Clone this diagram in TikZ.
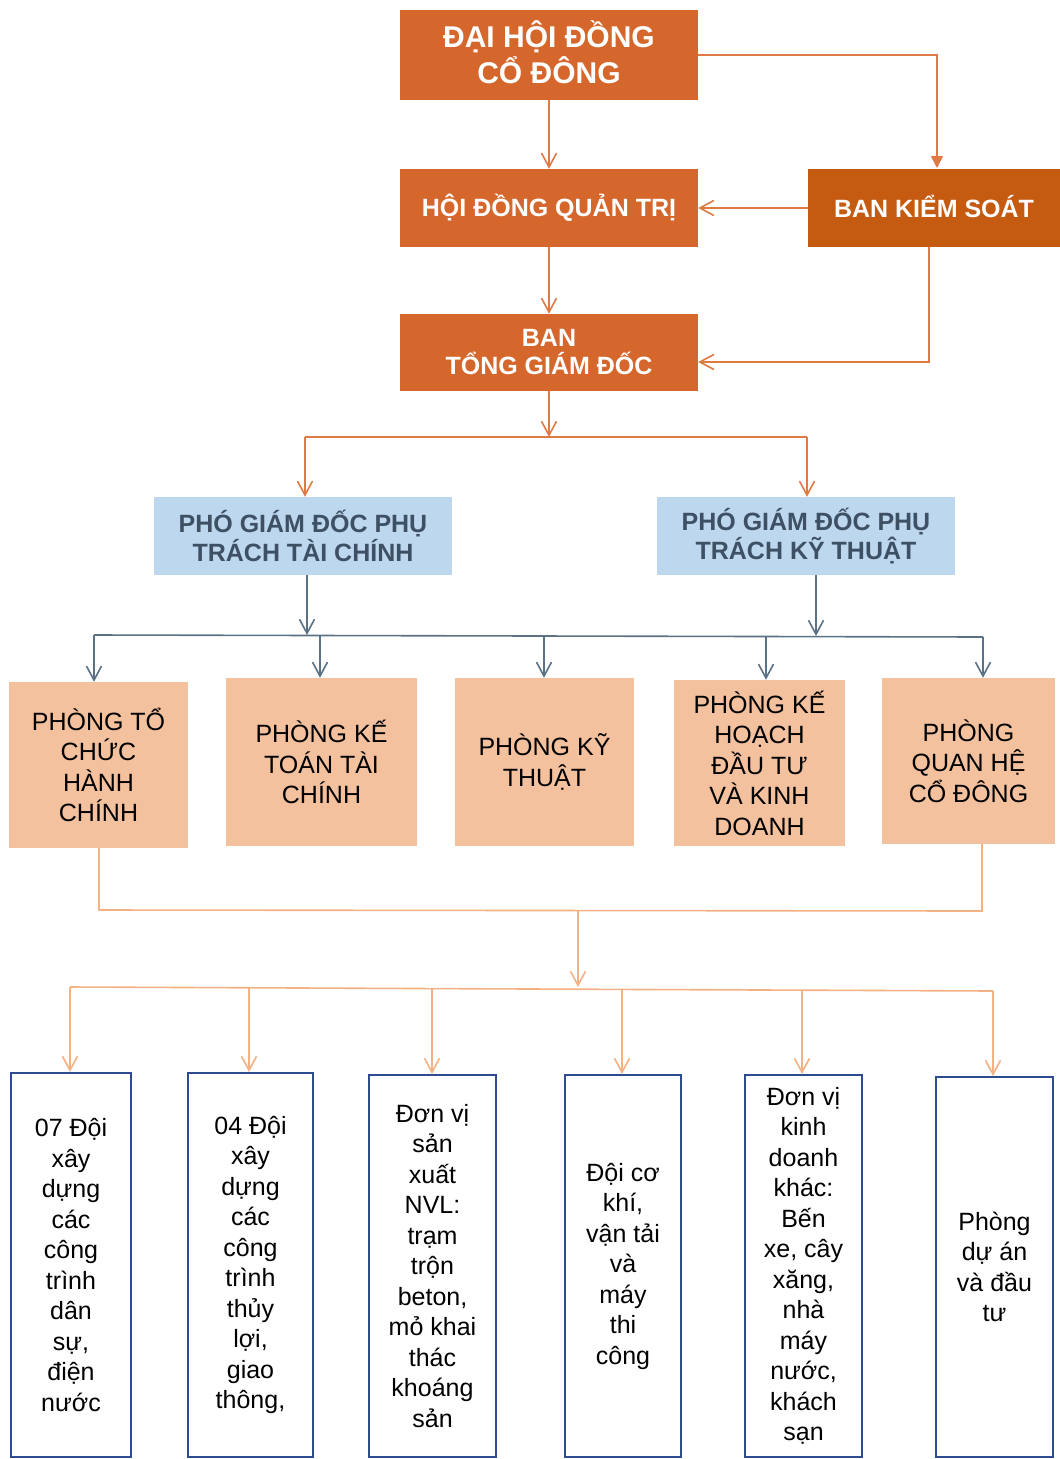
\documentclass[tikz,border=0pt]{standalone}
\usepackage{fontspec}
\setmainfont{Liberation Sans}
\usetikzlibrary{arrows.meta}
\definecolor{orgA}{HTML}{D5672C}
\definecolor{orgB}{HTML}{C55A11}
\definecolor{lineO}{HTML}{E07A45}
\definecolor{blueF}{HTML}{BDD7EE}
\definecolor{slate}{HTML}{3E5064}
\definecolor{lineS}{HTML}{5A7186}
\definecolor{peach}{HTML}{F4C19E}
\definecolor{lineP}{HTML}{F4B183}
\definecolor{navy}{HTML}{2F4B8F}
\begin{document}
\begin{tikzpicture}[x=1pt,y=-1pt,
  topbox/.style={fill=orgA, text=white, inner sep=0pt, align=center, font=\bfseries\fontsize{25}{28}\selectfont},
  pgbox/.style={fill=blueF, text=slate, inner sep=0pt, align=center, font=\bfseries\fontsize{25}{29}\selectfont},
  phbox/.style={fill=peach, text=black, inner sep=0pt, align=center, font=\fontsize{25}{30.5}\selectfont},
  unitbox/.style={draw=navy, line width=2pt, fill=white, text=black, inner sep=0pt, align=center, font=\fontsize{25}{30.5}\selectfont},
  lo/.style={draw=lineO, line width=1.6pt},
  ls/.style={draw=lineS, line width=1.6pt},
  lp/.style={draw=lineP, line width=1.6pt},
  vtip/.style={-{Straight Barb[length=14pt,width=15pt]}},
  ttip/.style={-{Triangle[length=12pt,width=12pt]}}
]
\useasboundingbox (0,0) rectangle (1060,1459);

% top level
\node[topbox, minimum width=298, minimum height=90, text depth=6pt, font=\bfseries\fontsize{30}{36}\selectfont] (dh) at (549,55) {ĐẠI HỘI ĐỒNG\\CỔ ĐÔNG};
\node[topbox, minimum width=298, minimum height=78] (hd) at (549,208) {HỘI ĐỒNG QUẢN TRỊ};
\node[topbox, fill=orgB, minimum width=252, minimum height=78, text depth=4pt] (bks) at (934,208) {BAN KIỂM SOÁT};
\node[topbox, minimum width=298, minimum height=77] (tgd) at (549,352.5) {BAN\\TỔNG GIÁM ĐỐC};

% deputies
\node[pgbox, minimum width=298, minimum height=78] (pg1) at (303,536) {PHÓ GIÁM ĐỐC PHỤ\\TRÁCH TÀI CHÍNH};
\node[pgbox, minimum width=298, minimum height=78] (pg2) at (806,536) {PHÓ GIÁM ĐỐC PHỤ\\TRÁCH KỸ THUẬT};

% departments
\node[phbox, minimum width=179, minimum height=166] (p1) at (98.5,765) {PHÒNG TỔ\\CHỨC\\HÀNH\\CHÍNH};
\node[phbox, minimum width=191, minimum height=168] (p2) at (321.5,762) {PHÒNG KẾ\\TOÁN TÀI\\CHÍNH};
\node[phbox, minimum width=179, minimum height=168] (p3) at (544.5,762) {PHÒNG KỸ\\THUẬT};
\node[phbox, minimum width=171, minimum height=166] (p4) at (759.5,763) {PHÒNG KẾ\\HOẠCH\\ĐẦU TƯ\\VÀ KINH\\DOANH};
\node[phbox, minimum width=173, minimum height=166] (p5) at (968.5,761) {PHÒNG\\QUAN HỆ\\CỔ ĐÔNG};

% units
\node[unitbox, minimum width=120, minimum height=384] (b1) at (71,1265) {07 Đội\\xây\\dựng\\các\\công\\trình\\dân\\sự,\\điện\\nước};
\node[unitbox, minimum width=125, minimum height=384] (b2) at (250.5,1265) {04 Đội\\xây\\dựng\\các\\công\\trình\\thủy\\lợi,\\giao\\thông,};
\node[unitbox, minimum width=127, minimum height=382] (b3) at (432.5,1266) {Đơn vị\\sản\\xuất\\NVL:\\trạm\\trộn\\beton,\\mỏ khai\\thác\\khoáng\\sản};
\node[unitbox, minimum width=116, minimum height=382] (b4) at (623,1266) {Đội cơ\\khí,\\vận tải\\và\\máy\\thi\\công};
\node[unitbox, minimum width=117, minimum height=382] (b5) at (803.5,1266) {Đơn vị\\kinh\\doanh\\khác:\\Bến\\xe, cây\\xăng,\\nhà\\máy\\nước,\\khách\\sạn};
\node[unitbox, minimum width=117, minimum height=380] (b6) at (994.5,1267) {Phòng\\dự án\\và đầu\\tư};

% upper connectors
\draw[lo, vtip] (dh.south) -- (hd.north);
\coordinate (bkstop) at (937,168);
\draw[lo, ttip] (dh.east) -| (bkstop);
\draw[lo, vtip] (bks.west) -- (hd.east);
\draw[lo, vtip] (hd.south) -- (tgd.north);
\coordinate (bksbot) at (929,247);
\coordinate (bksturn) at (929,362);
\draw[lo, vtip] (bksbot) -- (bksturn) -- (bksturn -| tgd.east);
\coordinate (j1) at (549,437);
\coordinate (j1l) at (305,437);
\coordinate (j1r) at (807,437);
\draw[lo, vtip] (tgd.south) -- (j1);
\draw[lo] (j1l) -- (j1r);
\draw[lo, vtip] (j1l) -- (j1l |- pg1.north);
\draw[lo, vtip] (j1r) -- (j1r |- pg2.north);

% deputies to departments
\coordinate (hl) at (94,635);
\coordinate (hr) at (983,637);
\coordinate (s1) at (307,635);
\coordinate (s2) at (816,636);
\draw[ls, vtip] (pg1.south -| s1) -- (s1);
\draw[ls, vtip] (pg2.south -| s2) -- (s2);
\draw[ls] (hl) -- (hr);
\coordinate (a1) at (94,635);
\coordinate (a2) at (320,635.5);
\coordinate (a3) at (544,636);
\coordinate (a4) at (766,636.5);
\coordinate (a5) at (983,637);
\draw[ls, vtip] (a1) -- (a1 |- p1.north);
\draw[ls, vtip] (a2) -- (a2 |- p2.north);
\draw[ls, vtip] (a3) -- (a3 |- p3.north);
\draw[ls, vtip] (a4) -- (a4 |- p4.north);
\draw[ls, vtip] (a5) -- (a5 |- p5.north);

% departments to units
\coordinate (k1) at (99,910);
\coordinate (k5) at (982,911);
\coordinate (km) at (578,910.5);
\coordinate (k2) at (578,987);
\draw[lp] (p1.south -| k1) -- (k1) -- (k5) -- (p5.south -| k5);
\draw[lp, vtip] (km) -- (k2);
\coordinate (ul) at (70,987);
\coordinate (ur) at (993,991);
\draw[lp] (ul) -- (ur);
\coordinate (c1) at (70,987);
\coordinate (c2) at (249,988);
\coordinate (c3) at (432,989);
\coordinate (c4) at (622,989.5);
\coordinate (c5) at (802,990);
\coordinate (c6) at (993,991);
\draw[lp, vtip] (c1) -- (c1 |- b1.north);
\draw[lp, vtip] (c2) -- (c2 |- b2.north);
\draw[lp, vtip] (c3) -- (c3 |- b3.north);
\draw[lp, vtip] (c4) -- (c4 |- b4.north);
\draw[lp, vtip] (c5) -- (c5 |- b5.north);
\draw[lp, vtip] (c6) -- (c6 |- b6.north);
\end{tikzpicture}
\end{document}
